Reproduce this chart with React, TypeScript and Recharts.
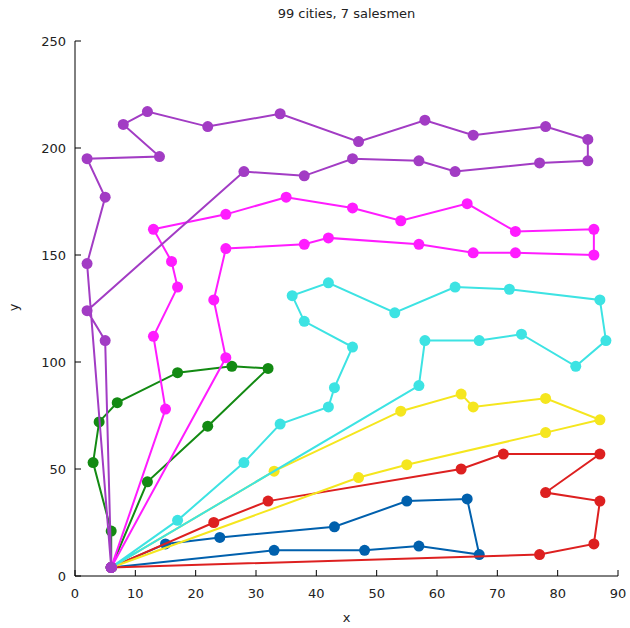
import React from 'react';
import { ScatterChart, Scatter, XAxis, YAxis } from 'recharts';

// city coordinates per salesman, depot (6,4) at both ends of each tour
const depot: [number, number] = [6, 4];

const blueTour: [number, number][] = [
  [15, 15], [24, 18], [43, 23], [55, 35], [65, 36], [67, 10], [57, 14], [48, 12], [33, 12],
];
const redTour: [number, number][] = [
  [23, 25], [32, 35], [64, 50], [71, 57], [87, 57], [78, 39], [87, 35], [86, 15], [77, 10],
];
const yellowTour: [number, number][] = [
  [33, 49], [54, 77], [64, 85], [66, 79], [78, 83], [87, 73], [78, 67], [55, 52], [47, 46],
];
const cyanTour: [number, number][] = [
  [17, 26], [28, 53], [34, 71], [42, 79], [43, 88], [46, 107], [38, 119], [36, 131], [42, 137],
  [53, 123], [63, 135], [72, 134], [87, 129], [88, 110], [83, 98], [74, 113], [67, 110], [58, 110], [57, 89],
];
const greenTour: [number, number][] = [
  [6, 21], [3, 53], [4, 72], [7, 81], [17, 95], [26, 98], [32, 97], [22, 70], [12, 44],
];
const magentaTour: [number, number][] = [
  [15, 78], [13, 112], [17, 135], [16, 147], [13, 162], [25, 169], [35, 177], [46, 172], [54, 166],
  [65, 174], [73, 161], [86, 162], [86, 150], [73, 151], [66, 151], [57, 155], [42, 158], [38, 155],
  [25, 153], [23, 129], [25, 102],
];
const purpleTour: [number, number][] = [
  [2, 146], [5, 177], [2, 195], [14, 196], [8, 211], [12, 217], [22, 210], [34, 216], [47, 203],
  [58, 213], [66, 206], [78, 210], [85, 204], [85, 194], [77, 193], [63, 189], [57, 194], [46, 195],
  [38, 187], [28, 189], [2, 124], [5, 110],
];

const xTicks = [0, 10, 20, 30, 40, 50, 60, 70, 80, 90];
const yTicks = [0, 50, 100, 150, 200, 250];

const tours = [
  { name: 'blue', color: '#0060ad', pts: blueTour },
  { name: 'red', color: '#dd2020', pts: redTour },
  { name: 'yellow', color: '#f5e61e', pts: yellowTour },
  { name: 'cyan', color: '#3de3e3', pts: cyanTour },
  { name: 'green', color: '#138a13', pts: greenTour },
  { name: 'magenta', color: '#ff1cff', pts: magentaTour },
  { name: 'purple', color: '#a23cc4', pts: purpleTour },
];

const toData = (pts: [number, number][]) =>
  [depot, ...pts, depot].map(([x, y]) => ({ x, y }));

const font = 'DejaVu Sans, sans-serif';
const txt = '#222';

const BottomTick = (p: any) => (
  <g>
    <line x1={p.x} x2={p.x} y1={p.y} y2={p.y - 6} stroke="#000" />
    <text x={p.x} y={p.y + 22} textAnchor="middle" fontSize={13} fontFamily={font} fill={txt}>
      {p.payload.value}
    </text>
  </g>
);
const LeftTick = (p: any) => (
  <g>
    <line x1={p.x} x2={p.x + 6} y1={p.y} y2={p.y} stroke="#000" />
    <text x={p.x - 9} y={p.y + 5} textAnchor="end" fontSize={13} fontFamily={font} fill={txt}>
      {p.payload.value}
    </text>
  </g>
);
const TopTick = (p: any) => <line x1={p.x} x2={p.x} y1={p.y} y2={p.y + 6} stroke="#000" />;
const RightTick = (p: any) => <line x1={p.x} x2={p.x - 6} y1={p.y} y2={p.y} stroke="#000" />;

export default function App() {
  return (
    <div style={{ position: 'absolute', left: 0, top: 0, width: 630, height: 628, background: '#fff' }}>
      <ScatterChart width={630} height={628} margin={{ top: 41, right: 12, bottom: 0, left: 0 }}>
        <XAxis xAxisId={0} type="number" dataKey="x" domain={[0, 90]} ticks={xTicks} allowDataOverflow
          height={52} tickSize={0} tickMargin={0} tickLine={false} tick={<BottomTick />} axisLine={{ stroke: '#000' }} />
        <XAxis xAxisId="top" orientation="top" type="number" domain={[0, 90]} ticks={xTicks} allowDataOverflow
          height={0} tickSize={0} tickMargin={0} tickLine={false} tick={<TopTick />} axisLine={{ stroke: '#000' }} />
        <YAxis yAxisId={0} type="number" dataKey="y" domain={[0, 250]} ticks={yTicks} allowDataOverflow
          width={75} tickSize={0} tickMargin={0} tickLine={false} tick={<LeftTick />} axisLine={{ stroke: '#000' }} />
        <YAxis yAxisId="right" orientation="right" type="number" domain={[0, 250]} ticks={yTicks} allowDataOverflow
          width={0} tickSize={0} tickMargin={0} tickLine={false} tick={<RightTick />} axisLine={{ stroke: '#000' }} />
        {tours.map((t) => (
          <Scatter
            key={t.name}
            name={t.name}
            data={toData(t.pts)}
            fill={t.color}
            line={{ stroke: t.color, strokeWidth: 2 }}
            lineType="joint"
            shape={(p: any) => <circle cx={p.cx} cy={p.cy} r={5.5} fill={t.color} />}
            isAnimationActive={false}
          />
        ))}
      </ScatterChart>
      <div style={{ position: 'absolute', left: 0, width: 693, top: 6, textAlign: 'center', fontFamily: font, fontSize: 13, color: txt }}>
        99 cities, 7 salesmen
      </div>
      <div style={{ position: 'absolute', left: 0, width: 693, top: 610, textAlign: 'center', fontFamily: font, fontSize: 13, color: txt }}>
        x
      </div>
      <div style={{ position: 'absolute', left: 10, top: 300, transform: 'rotate(-90deg)', fontFamily: font, fontSize: 13, color: txt }}>
        y
      </div>
    </div>
  );
}
